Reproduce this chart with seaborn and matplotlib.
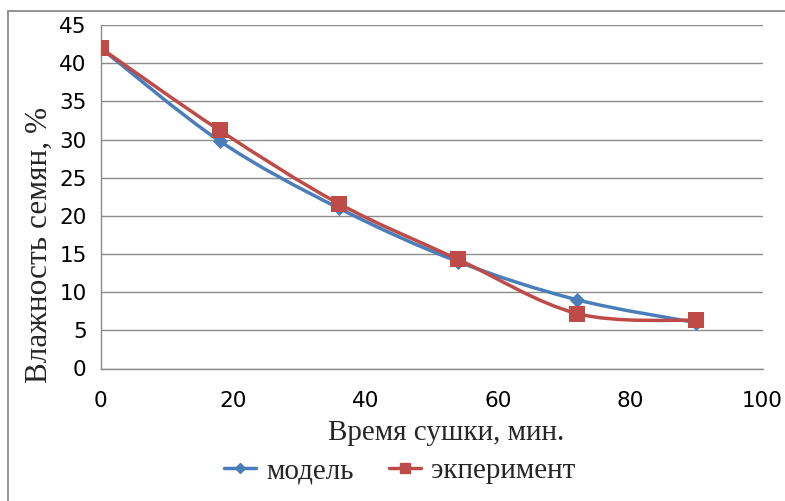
import numpy as np
import pandas as pd
import seaborn as sns
import matplotlib
matplotlib.use("Agg")
import matplotlib.pyplot as plt
from matplotlib.path import Path
from matplotlib.patches import PathPatch
from matplotlib.lines import Line2D

# Drying time, minutes
time_min = [0, 18, 36, 54, 72, 90]
# Seed moisture, %
model_moisture = [42.0, 29.8, 21.0, 14.0, 9.0, 6.0]
experiment_moisture = [42.0, 31.2, 21.6, 14.3, 7.2, 6.3]

series_names = ["модель", "экперимент"]
x_ticks = [0, 20, 40, 60, 80, 100]
y_ticks = [0, 5, 10, 15, 20, 25, 30, 35, 40, 45]
x_label = "Время сушки, мин."
y_label = "Влажность семян, %"

BLUE = "#4A7EBB"
RED = "#BE4B48"
GRID = "#8C8C8C"

sns.set_theme(style="white")
plt.rcParams["font.family"] = ["DejaVu Sans"]

df = pd.DataFrame({
    "t": time_min * 2,
    "w": model_moisture + experiment_moisture,
    "series": [series_names[0]] * len(time_min) + [series_names[1]] * len(time_min),
})

fig = plt.figure(figsize=(7.85, 5.01), dpi=100)
ax = fig.add_axes([100.5 / 785, 1 - 368.5 / 501, 662 / 785, 343.5 / 501])


def smooth_path(xs, ys):
    """Catmull-Rom style cubic Bezier through the points (smoothed line)."""
    pts = np.column_stack([xs, ys]).astype(float)
    n = len(pts)
    verts = [pts[0]]
    codes = [Path.MOVETO]
    for i in range(n - 1):
        p0 = pts[max(i - 1, 0)]
        p1 = pts[i]
        p2 = pts[i + 1]
        p3 = pts[min(i + 2, n - 1)]
        c1 = p1 + (p2 - p0) / 6.0
        c2 = p2 - (p3 - p1) / 6.0
        verts += [c1, c2, p2]
        codes += [Path.CURVE4] * 3
    return Path(verts, codes)


for ys, color, z in [(model_moisture, BLUE, 3), (experiment_moisture, RED, 5)]:
    ax.add_patch(PathPatch(smooth_path(time_min, ys), facecolor="none",
                           edgecolor=color, linewidth=2.5, zorder=z,
                           capstyle="round", joinstyle="round"))

sns.scatterplot(data=df[df.series == series_names[0]], x="t", y="w",
                marker="D", s=60, color=BLUE, edgecolor=BLUE, linewidth=0,
                zorder=4, legend=False, ax=ax)
sns.scatterplot(data=df[df.series == series_names[1]], x="t", y="w",
                marker="s", s=120, color=RED, edgecolor=RED, linewidth=0,
                zorder=6, legend=False, ax=ax)

ax.set_xlim(0, 100)
ax.set_ylim(0, 45)
ax.set_xticks(x_ticks)
ax.set_yticks(y_ticks)
ax.tick_params(axis="both", labelsize=15.5, colors="black", length=0)
ax.tick_params(axis="x", length=7, width=1, color=GRID, direction="out", pad=9)
ax.tick_params(axis="y", length=7, width=1, color=GRID, direction="out", pad=3)
ax.yaxis.grid(True, color=GRID, linewidth=1)
ax.xaxis.grid(False)
ax.set_axisbelow(True)
for side in ["top", "right"]:
    ax.spines[side].set_visible(False)
for side in ["left", "bottom"]:
    ax.spines[side].set_color(GRID)
    ax.spines[side].set_linewidth(1)

serif = ["Liberation Serif", "DejaVu Serif"]
ax.set_xlabel("")
ax.set_ylabel("")
fig.text(446 / 785, 1 - 433 / 501, x_label, family=serif, fontsize=21,
         ha="center", va="center")
fig.text(39 / 785, 1 - 245 / 501, y_label, family=serif, fontsize=22.5,
         ha="center", va="center", rotation=90)

handles = [
    Line2D([], [], color=BLUE, linewidth=2.5, marker="D", markersize=5.5),
    Line2D([], [], color=RED, linewidth=2.5, marker="s", markersize=7),
]
fig.legend(handles, series_names, loc="center", bbox_to_anchor=(400 / 785, 1 - 471 / 501),
           ncol=2, frameon=False, prop={"family": serif, "size": 21},
           handlelength=1.1, handletextpad=0.35, columnspacing=1.2)

# Chart area border
fig.add_artist(Line2D([7.5 / 785, 7.5 / 785], [0, 1 - 11 / 501], transform=fig.transFigure,
                      color="#8A8A8A", linewidth=1.3))
fig.add_artist(Line2D([7.5 / 785, 1], [1 - 11 / 501, 1 - 11 / 501], transform=fig.transFigure,
                      color="#8A8A8A", linewidth=1.3))

fig.savefig("out.png", dpi=100)
